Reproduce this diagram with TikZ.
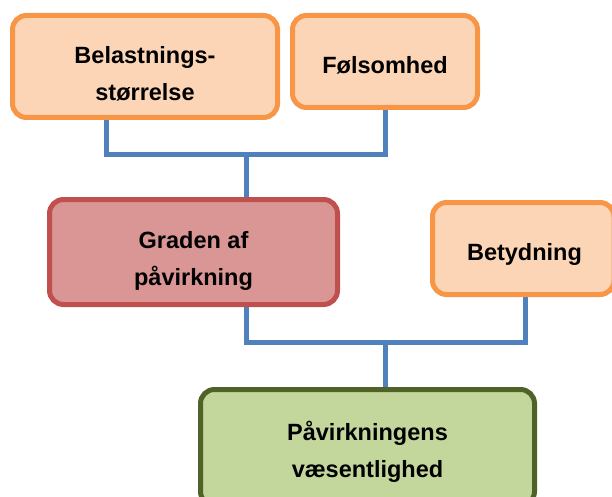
\documentclass[tikz,border=0pt]{standalone}
\usepackage{fontspec}
\setmainfont{Liberation Sans}
\usetikzlibrary{backgrounds}
\definecolor{orangeB}{HTML}{F79646}
\definecolor{orangeF}{HTML}{FBD5B5}
\definecolor{redB}{HTML}{C0504D}
\definecolor{redF}{HTML}{D99694}
\definecolor{greenB}{HTML}{4F6228}
\definecolor{greenF}{HTML}{C3D69B}
\definecolor{lineB}{HTML}{4F81BD}
\begin{document}
\begin{tikzpicture}[x=1pt,y=-1pt,
  box/.style={rectangle, rounded corners=14pt, line width=5pt, inner sep=0pt},
  obox/.style={box, draw=orangeB, fill=orangeF},
  rbox/.style={box, draw=redB, fill=redF},
  gbox/.style={box, draw=greenB, fill=greenF},
  txt/.style={font=\fontsize{23.5}{37.5}\selectfont\bfseries, align=center, inner sep=0pt, text=black},
  conn/.style={draw=lineB, line width=5pt, line join=miter}]
\path[use as bounding box, clip] (0,0) rectangle (612,497);
% boxes
\node[obox, minimum width=265pt, minimum height=102pt] (b1) at (145,66.5) {};
\node[obox, minimum width=185pt, minimum height=92pt] (b2) at (385,61.5) {};
\node[rbox, minimum width=288pt, minimum height=105pt] (b3) at (193.5,252) {};
\node[obox, minimum width=181.5pt, minimum height=92pt] (b4) at (523.25,248.5) {};
\node[gbox, minimum width=334pt, minimum height=116pt] (b5) at (367.5,447.5) {};
% texts
\node[txt] (t1) at (145,73.8) {Belastnings-\\størrelse};
\node[txt] (t2) at (385,65) {Følsomhed};
\node[txt] (t3) at (193.5,260.9) {Graden af\\påvirkning};
\node[txt] (t4) at (524.5,254.5) {Betydning};
\node[txt] (t5) at (367.5,451.8) {Påvirkningens\\væsentlighed};
% junctions
\coordinate (j1) at (246,155);
\coordinate (j2) at (385,342);
\begin{scope}[on background layer]
  \draw[conn] ([xshift=-39pt]b1.south) |- (j1) -| (b2.south);
  \draw[conn] (j1) -- (b3.north -| j1);
  \draw[conn] ([xshift=52.5pt]b3.south) |- (j2) -| ([xshift=1.75pt]b4.south);
  \draw[conn] (j2) -- (b5.north -| j2);
\end{scope}
\end{tikzpicture}
\end{document}
